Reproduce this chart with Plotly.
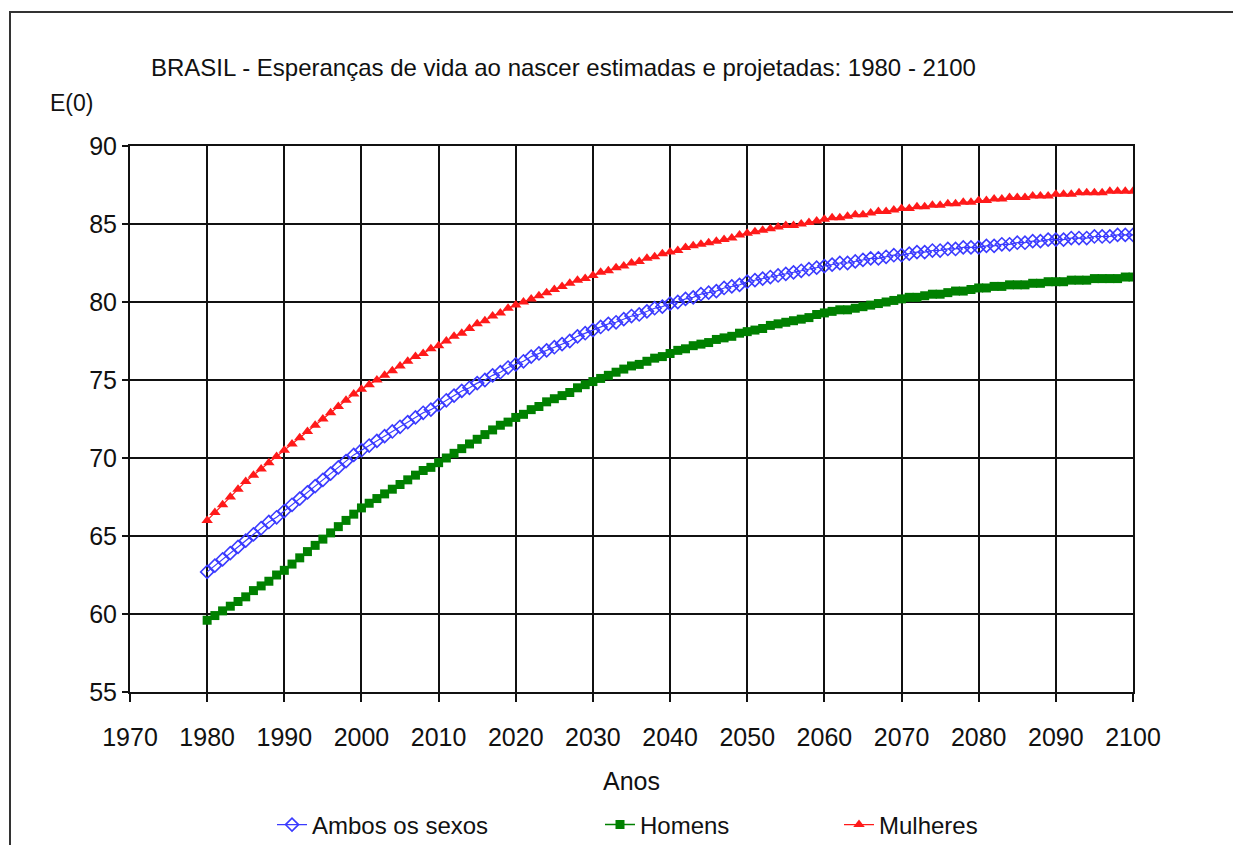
import plotly.graph_objects as go

years = list(range(1980, 2101))

ambos = [
    62.7, 63.1, 63.5, 63.9, 64.3, 64.7, 65.1, 65.5, 65.9, 66.2,
    66.6, 67.0, 67.4, 67.8, 68.2, 68.6, 69.0, 69.4, 69.8, 70.2,
    70.5, 70.8, 71.1, 71.4, 71.7, 72.0, 72.3, 72.6, 72.9, 73.1,
    73.4, 73.7, 74.0, 74.3, 74.5, 74.8, 75.0, 75.3, 75.5, 75.8,
    76.0, 76.2, 76.5, 76.7, 76.9, 77.1, 77.3, 77.5, 77.8, 78.0,
    78.2, 78.4, 78.6, 78.7, 78.9, 79.1, 79.2, 79.4, 79.6, 79.7,
    79.9, 80.0, 80.2, 80.3, 80.5, 80.6, 80.7, 80.9, 81.0, 81.1,
    81.3, 81.4, 81.5, 81.6, 81.7, 81.8, 81.9, 82.0, 82.1, 82.2,
    82.3, 82.4, 82.5, 82.5, 82.6, 82.7, 82.8, 82.8, 82.9, 83.0,
    83.0, 83.1, 83.2, 83.2, 83.3, 83.3, 83.4, 83.4, 83.5, 83.5,
    83.5, 83.6, 83.6, 83.7, 83.7, 83.8, 83.8, 83.9, 83.9, 84.0,
    84.0, 84.0, 84.1, 84.1, 84.1, 84.2, 84.2, 84.2, 84.3, 84.3,
    84.3,
]

homens = [
    59.6, 59.9, 60.2, 60.5, 60.8, 61.1, 61.5, 61.8, 62.1, 62.5,
    62.8, 63.2, 63.6, 64.0, 64.4, 64.8, 65.2, 65.6, 66.0, 66.4,
    66.8, 67.1, 67.4, 67.7, 68.0, 68.3, 68.6, 68.9, 69.2, 69.4,
    69.7, 70.0, 70.3, 70.6, 70.9, 71.2, 71.5, 71.8, 72.1, 72.3,
    72.6, 72.8, 73.1, 73.3, 73.6, 73.8, 74.0, 74.2, 74.5, 74.7,
    74.9, 75.1, 75.3, 75.5, 75.7, 75.9, 76.0, 76.2, 76.4, 76.5,
    76.7, 76.9, 77.0, 77.2, 77.3, 77.4, 77.6, 77.7, 77.8, 78.0,
    78.1, 78.2, 78.3, 78.5, 78.6, 78.7, 78.8, 78.9, 79.0, 79.2,
    79.3, 79.4, 79.5, 79.5, 79.6, 79.7, 79.8, 79.9, 80.0, 80.1,
    80.2, 80.3, 80.3, 80.4, 80.5, 80.5, 80.6, 80.7, 80.7, 80.8,
    80.9, 80.9, 81.0, 81.0, 81.1, 81.1, 81.1, 81.2, 81.2, 81.3,
    81.3, 81.3, 81.4, 81.4, 81.4, 81.5, 81.5, 81.5, 81.5, 81.6,
    81.6,
]

mulheres = [
    66.0, 66.5, 67.0, 67.5, 68.0, 68.5, 68.9, 69.3, 69.7, 70.1,
    70.5, 70.9, 71.3, 71.7, 72.1, 72.5, 72.9, 73.3, 73.7, 74.1,
    74.4, 74.7, 75.0, 75.3, 75.6, 75.9, 76.2, 76.5, 76.7, 77.0,
    77.2, 77.5, 77.8, 78.0, 78.3, 78.6, 78.8, 79.1, 79.3, 79.6,
    79.8, 80.0, 80.2, 80.4, 80.6, 80.8, 81.0, 81.2, 81.4, 81.5,
    81.7, 81.9, 82.0, 82.2, 82.3, 82.5, 82.6, 82.8, 82.9, 83.1,
    83.2, 83.3, 83.5, 83.6, 83.7, 83.8, 83.9, 84.0, 84.1, 84.3,
    84.4, 84.5, 84.6, 84.7, 84.8, 84.9, 84.9, 85.0, 85.1, 85.2,
    85.3, 85.4, 85.4, 85.5, 85.6, 85.6, 85.7, 85.8, 85.8, 85.9,
    86.0, 86.0, 86.1, 86.1, 86.2, 86.2, 86.3, 86.3, 86.4, 86.4,
    86.5, 86.5, 86.6, 86.6, 86.7, 86.7, 86.7, 86.8, 86.8, 86.8,
    86.9, 86.9, 86.9, 87.0, 87.0, 87.0, 87.0, 87.1, 87.1, 87.1,
    87.1,
]

x_ticks = list(range(1970, 2101, 10))
y_ticks = list(range(55, 91, 5))

FONT = "Liberation Sans, Arial, sans-serif"
TXT = "#111"

L, R, T, B = 130, 1133, 146, 692
W, H = 1233, 845

def px_x(p):
    return (p - L) / (R - L)

def px_y(p):
    return (B - p) / (B - T)

fig = go.Figure()
fig.add_trace(go.Scatter(
    x=years, y=ambos, name="Ambos os sexos", mode="lines+markers",
    line=dict(color="#3b3bff", width=1.2),
    marker=dict(symbol="diamond-open", size=10, color="#3b3bff", line=dict(width=1.6, color="#3b3bff")),
    legend="legend",
))
fig.add_trace(go.Scatter(
    x=years, y=homens, name="Homens", mode="lines+markers",
    line=dict(color="#008000", width=1.5),
    marker=dict(symbol="square", size=9, color="#008000"),
    legend="legend2",
))
fig.add_trace(go.Scatter(
    x=years, y=mulheres, name="Mulheres", mode="lines+markers",
    line=dict(color="#ff1a1a", width=1.2),
    marker=dict(symbol="triangle-up", size=10, color="#ff1a1a"),
    legend="legend3",
))

def leg(xpx):
    return dict(
        orientation="h", x=px_x(xpx), xanchor="left", y=px_y(825), yanchor="middle",
        font=dict(family=FONT, size=24, color=TXT), bgcolor="rgba(0,0,0,0)",
        itemwidth=30,
    )

fig.update_layout(
    width=W, height=H,
    margin=dict(l=L, r=W - R, t=T, b=H - B, autoexpand=False),
    paper_bgcolor="white", plot_bgcolor="white",
    font=dict(family=FONT, size=25, color=TXT),
    title=dict(
        text="BRASIL - Esperanças de vida ao nascer estimadas e projetadas: 1980 - 2100",
        x=151 / W, xanchor="left", xref="container",
        y=1 - 68 / H, yanchor="middle", yref="container",
        font=dict(family=FONT, size=24, color=TXT),
    ),
    xaxis=dict(
        range=[1970, 2100], tickvals=x_ticks, ticktext=[str(v) for v in x_ticks],
        showgrid=True, gridcolor="#111", gridwidth=1.5,
        showline=True, linecolor="#111", linewidth=2, mirror=True,
        ticks="outside", ticklen=8, tickcolor="#111", tickwidth=1.5,
        ticklabelstandoff=14,
        zeroline=False, tickfont=dict(family=FONT, size=25, color=TXT),
        title=dict(text="Anos", font=dict(family=FONT, size=25, color=TXT), standoff=22),
    ),
    yaxis=dict(
        range=[55, 90], tickvals=y_ticks,
        showgrid=True, gridcolor="#111", gridwidth=1.5,
        showline=True, linecolor="#111", linewidth=2, mirror=True,
        ticks="outside", ticklen=6, tickcolor="#111", tickwidth=1.5,
        zeroline=False, tickfont=dict(family=FONT, size=25, color=TXT),
    ),
    legend=leg(272),
    legend2=leg(600),
    legend3=leg(839),
    showlegend=True,
)

fig.add_annotation(
    text="E(0)", xref="paper", yref="paper", x=px_x(48), y=px_y(103),
    xanchor="left", yanchor="middle", showarrow=False,
    font=dict(family=FONT, size=23, color=TXT),
)

fig.add_shape(
    type="rect", xref="paper", yref="paper",
    x0=px_x(10), x1=px_x(1245), y0=px_y(860), y1=px_y(12),
    line=dict(color="#333", width=2), fillcolor="rgba(0,0,0,0)", layer="below",
)

fig.write_html(
    "out.html",
    config={"displayModeBar": False},
    post_script="document.body.style.margin='0';document.body.style.overflow='hidden';",
)
